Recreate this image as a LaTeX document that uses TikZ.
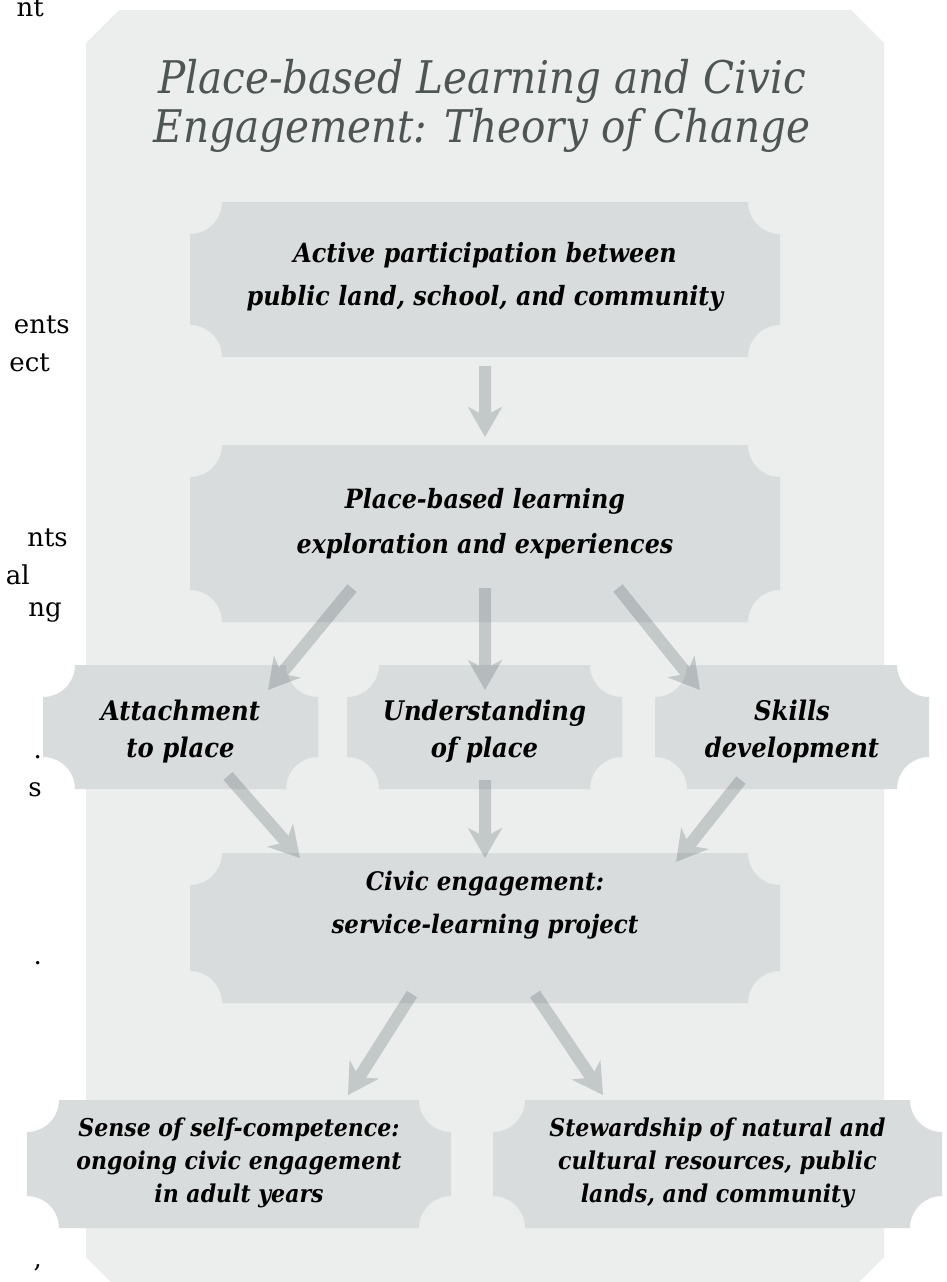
\documentclass[tikz,border=0pt]{standalone}
\usepackage{fontspec}
\setmainfont{DejaVu Serif}
\newfontfamily\cnd{DejaVu Serif Condensed}
\usetikzlibrary{arrows.meta,calc}
\definecolor{panelc}{HTML}{ECEDED}
\definecolor{boxc}{HTML}{D9DCDD}
\definecolor{titlec}{HTML}{4E5654}
\definecolor{arrc}{HTML}{4E5F5F}
\pgfdeclarelayer{bg}
\pgfdeclarelayer{boxes}
\pgfsetlayers{bg,boxes,main}
\tikzset{
 boxn/.style={inner sep=0pt, outer sep=0pt},
 txt/.style={inner sep=0pt, align=center, text=black, font=\cnd\bfseries\itshape\fontsize{26.5}{43}\selectfont},
 txtrow/.style={txt, font=\cnd\bfseries\itshape\fontsize{27}{37}\selectfont},
 txtbot/.style={txt, font=\cnd\bfseries\itshape\fontsize{24.5}{33}\selectfont},
 frag/.style={inner sep=0pt, anchor=east, text=black, font=\fontsize{26}{30}\selectfont},
 arr/.style={draw=arrc, line width=12pt, -{Stealth[length=30pt,width=34pt,inset=9pt]}},
}
\newcommand\tktshape[2]{%
 \fill[boxc] ([xshift=#2pt]#1.north west) -- ([xshift=-#2pt]#1.north east)
   arc[start angle=180,end angle=270,radius=#2pt] -- ([yshift=#2pt]#1.south east)
   arc[start angle=90,end angle=180,radius=#2pt] -- ([xshift=#2pt]#1.south west)
   arc[start angle=0,end angle=90,radius=#2pt] -- ([yshift=-#2pt]#1.north west)
   arc[start angle=-90,end angle=0,radius=#2pt] -- cycle;}
\begin{document}
\begin{tikzpicture}[x=1pt,y=1pt]
\useasboundingbox (0,0) rectangle (947,-1282);
\clip (0,0) rectangle (947,-1282);
\begin{pgfonlayer}{bg}
\fill[white] (0,0) rectangle (947,-1282);
\fill[panelc] (119,-10) -- (851,-10) -- (884,-43) -- (884,-1257) -- (856,-1285)
  -- (114,-1285) -- (86,-1257) -- (86,-43) -- cycle;
\end{pgfonlayer}
% page text fragments at the left edge
\node[frag] (f1) at (44,-8) {nt};
\node[frag] (f2) at (70,-325) {ents};
\node[frag] (f3) at (50,-363) {ect};
\node[frag] (f4) at (68,-538) {nts};
\node[frag] (f5) at (30,-575) {al};
\node[frag] (f6) at (62,-612) {ng};
\node[frag] (f7) at (42,-757) {.};
\node[frag] (f8) at (42,-790) {s};
\node[frag] (f9) at (42,-963) {.};
\node[frag] (f10) at (42,-1268) {,};
% title
\node[inner sep=0pt, align=center, text=titlec, font=\cnd\itshape\fontsize{45}{49}\selectfont] (title) at (482,-107.7)
  {\strut Place-based Learning and Civic\\Engagement: Theory of Change\strut};
% boxes
\node[boxn, minimum width=590pt, minimum height=155pt] (b1) at (485,-279.5) {};
\node[boxn, minimum width=590pt, minimum height=177pt] (b2) at (485,-533.5) {};
\node[boxn, minimum width=275pt, minimum height=124pt] (b3) at (180.5,-727) {};
\node[boxn, minimum width=275pt, minimum height=124pt] (b4) at (484.5,-727) {};
\node[boxn, minimum width=274pt, minimum height=124pt] (b5) at (792,-727) {};
\node[boxn, minimum width=590pt, minimum height=150pt] (b6) at (485,-928) {};
\node[boxn, minimum width=424pt, minimum height=128pt] (b7) at (239,-1164) {};
\node[boxn, minimum width=449pt, minimum height=128pt] (b8) at (717.5,-1164) {};
\begin{pgfonlayer}{boxes}
\tktshape{b1}{32}\tktshape{b2}{32}\tktshape{b3}{32}\tktshape{b4}{32}
\tktshape{b5}{32}\tktshape{b6}{32}\tktshape{b7}{32}\tktshape{b8}{32}
\end{pgfonlayer}
% texts
\node[txt] (t1) at (485,-275) {\strut Active participation between\\public land, school, and community\strut};
\node[txt, font=\cnd\bfseries\itshape\fontsize{26.5}{45}\selectfont] (t2) at (485,-521.5) {\strut Place-based learning\\exploration and experiences\strut};
\node[txtrow] (t3) at (180.5,-732) {\strut Attachment\\to place\strut};
\node[txtrow] (t4) at (484.5,-732) {\strut Understanding\\of place\strut};
\node[txtrow] (t5) at (792,-732) {\strut Skills\\development\strut};
\node[txt, font=\cnd\bfseries\itshape\fontsize{25.5}{43}\selectfont] (t6) at (485,-903) {\strut Civic engagement:\\service-learning project\strut};
\node[txtbot] (t7) at (239,-1163) {\strut Sense of self-competence:\\ongoing civic engagement\\in adult years\strut};
\node[txtbot] (t8) at (717.5,-1163) {\strut Stewardship of natural and\\cultural resources, public\\lands, and community\strut};
% arrows
\begin{scope}[transparency group, opacity=0.26]
\draw[arr] ([yshift=-9pt]b1.south) -- ([yshift=8pt]b2.north);
\draw[arr] ([shift={(-133pt,34pt)}]b2.south) -- ([shift={(87.5pt,-25pt)}]b3.north);
\draw[arr] ([yshift=34pt]b2.south) -- ([yshift=-25pt]b2.south |- b4.north);
\draw[arr] ([shift={(133pt,34pt)}]b2.south) -- ([shift={(-92pt,-25pt)}]b5.north);
\draw[arr] ([shift={(47.5pt,13pt)}]b3.south) -- ([shift={(-185pt,-5pt)}]b6.north);
\draw[arr] ([yshift=9pt]b2.south |- b4.south) -- ([yshift=-5pt]b6.north);
\draw[arr] ([shift={(-51pt,9pt)}]b5.south) -- ([shift={(191pt,-9pt)}]b6.north);
\draw[arr] ([shift={(-73pt,9pt)}]b6.south) -- ([shift={(109pt,5pt)}]b7.north);
\draw[arr] ([shift={(50pt,9pt)}]b6.south) -- ([shift={(-114.5pt,5pt)}]b8.north);
\end{scope}
\end{tikzpicture}
\end{document}
